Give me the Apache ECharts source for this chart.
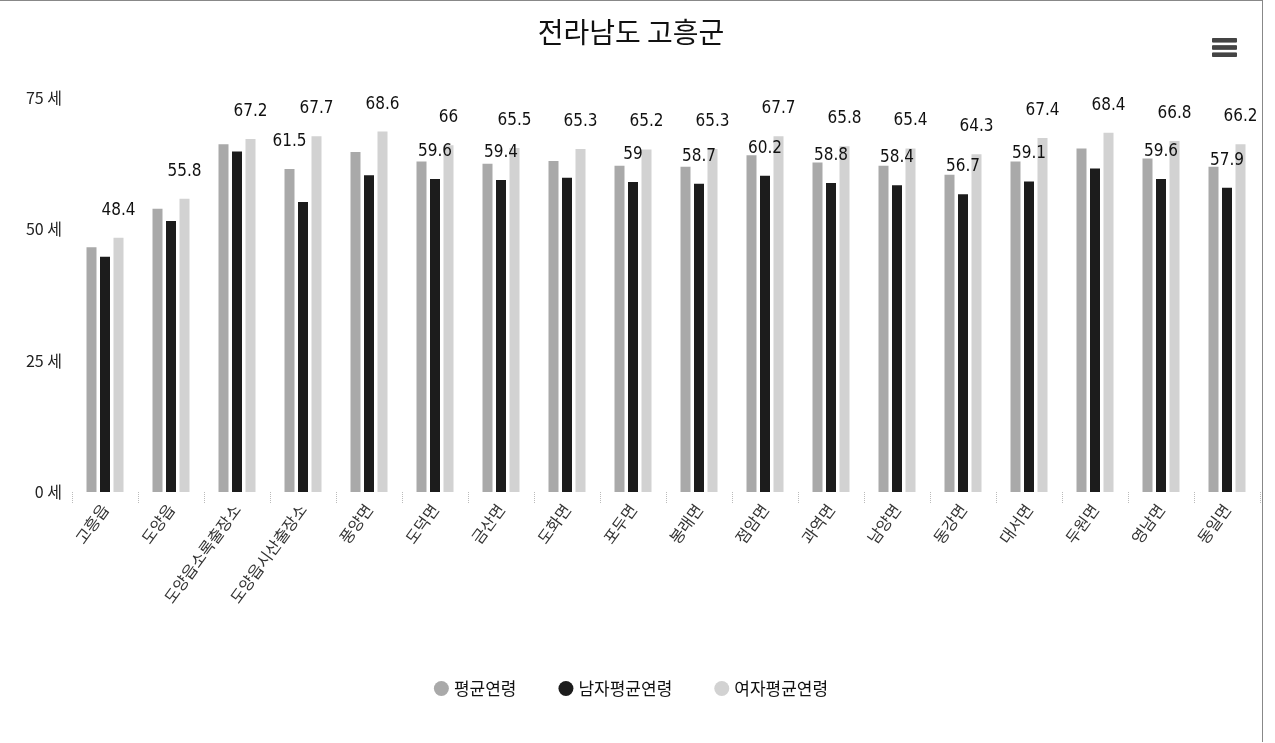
<!DOCTYPE html>
<html>
<head>
<meta charset="utf-8">
<script src="https://cdn.jsdelivr.net/npm/echarts@6/dist/echarts.min.js"></script>
<style>
html,body{margin:0;padding:0;background:#fff;}
#wrap{position:absolute;left:0;top:0;width:1262px;height:741px;border-top:1px solid #888;border-right:1px solid #888;}
#chart{width:1262px;height:741px;}
</style>
</head>
<body>
<div id="wrap"><div id="chart"></div></div>
<script>
const categories = ['고흥읍','도양읍','도양읍소록출장소','도양읍시산출장소','풍양면','도덕면','금산면','도화면','포두면','봉래면','점암면','과역면','남양면','동강면','대서면','두원면','영남면','동일면'];
const seriesNames = ['평균연령','남자평균연령','여자평균연령'];
const avgAge    = [46.6, 53.9, 66.2, 61.5, 64.7, 62.9, 62.5, 63.0, 62.1, 61.9, 64.1, 62.7, 62.1, 60.4, 62.9, 65.4, 63.5, 61.9];
const maleAge   = [44.8, 51.6, 64.8, 55.2, 60.3, 59.6, 59.4, 59.8, 59.0, 58.7, 60.2, 58.8, 58.4, 56.7, 59.1, 61.6, 59.6, 57.9];
const femaleAge = [48.4, 55.8, 67.2, 67.7, 68.6, 66.0, 65.5, 65.3, 65.2, 65.3, 67.7, 65.8, 65.4, 64.3, 67.4, 68.4, 66.8, 66.2];
const yTicks = [0, 25, 50, 75];
// which value labels are visible in the reference (others hidden by overlap)
const avgLabelShown = [3];
const maleLabelShown = [5,6,8,9,10,11,12,13,14,16,17];

const chart = echarts.init(document.getElementById('chart'));
const labelFont = {fontFamily:'"DejaVu Sans Condensed","Liberation Sans Narrow","Noto Sans CJK KR",sans-serif', fontSize:17, color:'#111'};
const krFont = '"Noto Sans CJK KR",sans-serif';

function items(values, shown){
  return values.map((v,i)=>({value:v, label:{show: shown === null || shown.indexOf(i) >= 0}}));
}

chart.setOption({
  animation:false,
  title:{text:'전라남도 고흥군', left:'center', top:12,
    textStyle:{fontFamily:krFont, fontSize:28, fontWeight:'normal', color:'#111'}},
  toolbox:{right:10, top:22, itemSize:24,
    feature:{myMenu:{show:true, title:'', icon:'path://M0,0H20V3H0Z M0,6H20V9H0Z M0,12H20V15H0Z', onclick:function(){}}},
    iconStyle:{color:'#444', borderColor:'#444'}},
  legend:{bottom:40, left:'center', icon:'circle', itemWidth:15, itemHeight:15, itemGap:42,
    data:seriesNames,
    textStyle:{fontFamily:krFont, fontSize:17, color:'#111'}},
  grid:{left:72, right:2, top:97, bottom:250, containLabel:false},
  xAxis:{type:'category', data:categories,
    axisLine:{show:false},
    axisTick:{show:true, alignWithLabel:false, length:12, lineStyle:{color:'#bbb', type:'dotted'}},
    axisLabel:{rotate:54, interval:0, margin:14, fontFamily:krFont, fontSize:16, color:'#333'}},
  yAxis:{type:'value', min:0, max:75, interval:25,
    axisLine:{show:false}, axisTick:{show:false}, splitLine:{show:false},
    axisLabel:{margin:10, fontFamily:krFont, fontSize:16, color:'#222',
      formatter:function(v){ return yTicks.indexOf(v) >= 0 ? v + ' 세' : ''; }}},
  series:[
    {name:seriesNames[0], type:'bar', barWidth:10, barGap:'35%', data:items(avgAge, avgLabelShown),
      itemStyle:{color:'#a9a9a9'},
      label:{position:'top', distance:19, ...labelFont}},
    {name:seriesNames[1], type:'bar', barWidth:10, barGap:'35%', data:items(maleAge, maleLabelShown),
      itemStyle:{color:'#1c1c1c'},
      label:{position:'top', distance:19, ...labelFont}},
    {name:seriesNames[2], type:'bar', barWidth:10, barGap:'35%', data:items(femaleAge, null),
      itemStyle:{color:'#d2d2d2'},
      label:{position:'top', distance:19, ...labelFont}}
  ]
});
</script>
</body>
</html>
